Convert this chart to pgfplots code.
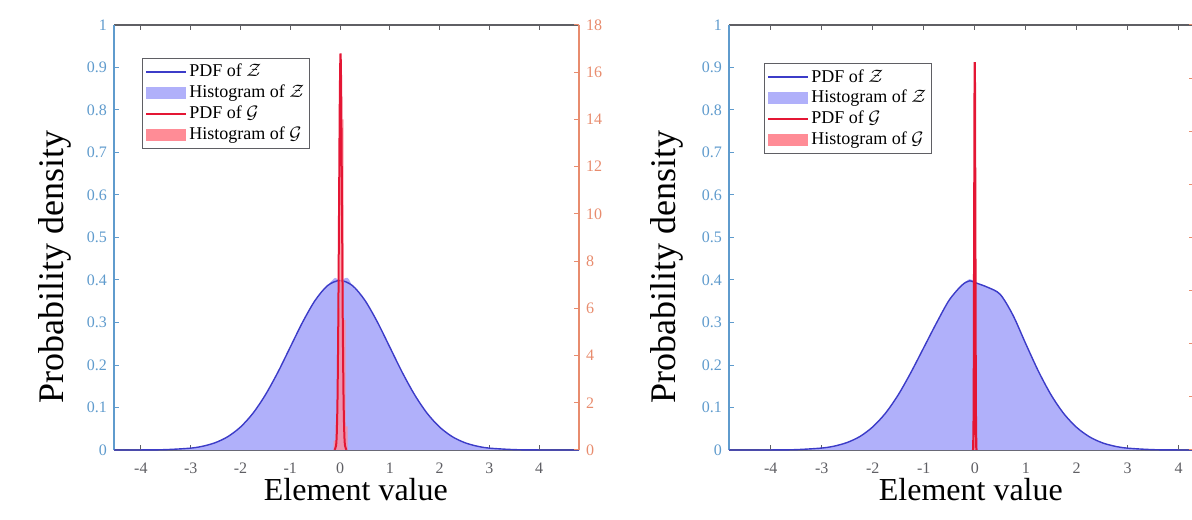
\documentclass[border=0pt]{standalone}
\usepackage{fontspec}
\setmainfont{Liberation Serif}
\usepackage{pgfplots}
\pgfplotsset{compat=1.18}

\definecolor{leftax}{RGB}{95,155,205}
\definecolor{rightax}{RGB}{232,140,110}
\definecolor{boxgray}{RGB}{95,95,100}
\definecolor{zfill}{RGB}{176,176,250}
\definecolor{zline}{RGB}{60,60,200}
\definecolor{gline}{RGB}{228,22,52}
\definecolor{gfill}{RGB}{255,140,150}

\pgfplotsset{
  linelegend/.style={legend image code/.code={\draw[##1] (0pt,0pt) -- (20pt,0pt);}},
  arealegend/.style={legend image code/.code={\fill[##1, draw=none] (0pt,-3pt) rectangle (20pt,3pt);}},
  panel/.style={
    scale only axis, width=232.5pt, height=212.5pt, anchor=south west,
    ymin=0, tick align=inside, major tick length=2.5pt,
    /pgf/number format/assume math mode=true,
    ticklabel style={font=\fontsize{8}{9}\selectfont},
  },
  leftpart/.style={
    panel,
    axis x line=box, axis y line*=left, ymax=1,
    xtick={-4,-3,-2,-1,0,1,2,3,4},
    ytick={0,0.1,0.2,0.3,0.4,0.5,0.6,0.7,0.8,0.9,1},
    x axis line style={draw=boxgray, line width=0.6pt, -},
    y axis line style={draw=leftax, line width=0.6pt, -},
    xtick style={draw=boxgray, line width=0.5pt},
    ytick style={draw=leftax, line width=0.5pt},
    xticklabel style={color=boxgray, yshift=-3pt},
    yticklabel style={color=leftax},
    xlabel style={font=\fontsize{16}{18}\selectfont, at={(axis description cs:0.52,0)}, anchor=base, yshift=-25pt},
    ylabel style={font=\fontsize{18}{20}\selectfont, anchor=center},
    xlabel={Element value}, ylabel={Probability density},
  },
  rightpart/.style={
    panel,
    axis x line=none, axis y line*=right,
    y axis line style={draw=rightax, line width=0.6pt, -},
    ytick style={draw=rightax, line width=0.5pt},
    yticklabel style={color=rightax},
    legend cell align=left,
    legend style={anchor=north west, draw=boxgray, fill=white, line width=0.5pt,
      font=\fontsize{9}{10}\selectfont, row sep=0pt, inner sep=1.5pt,
      nodes={inner sep=1.3pt}},
  },
}

\begin{document}
\begin{tikzpicture}
% ---------- left panel ----------
\begin{axis}[leftpart, at={(57pt,34.5pt)}, xmin=-4.54, xmax=4.8,
  ylabel style={at={(axis description cs:-0.127,0.43)}}]
\addplot[fill=zfill, draw=none, smooth] coordinates {
 (-4.54,0) (-4.25,0) (-4.0,0.0001) (-3.75,0.0004) (-3.5,0.0009) (-3.25,0.0020)
 (-3.0,0.0044) (-2.75,0.0091) (-2.5,0.0175) (-2.25,0.0317) (-2.0,0.0540)
 (-1.75,0.0863) (-1.5,0.1296) (-1.25,0.1826) (-1.0,0.2420) (-0.75,0.3012)
 (-0.5,0.3521) (-0.25,0.3868) (-0.1,0.405) (0.0,0.399) (0.15,0.405) (0.25,0.3868)
 (0.5,0.3521) (0.75,0.3012) (1.0,0.2420) (1.25,0.1826) (1.5,0.1296) (1.75,0.0863)
 (2.0,0.0540) (2.25,0.0317) (2.5,0.0175) (2.75,0.0091) (3.0,0.0044) (3.25,0.0020)
 (3.5,0.0009) (3.75,0.0004) (4.0,0.0001) (4.25,0) (4.8,0)
} \closedcycle;
\addplot[draw=zline, line width=0.7pt, smooth] coordinates {
 (-4.54,0) (-4.0,0.0001) (-3.5,0.0009) (-3.0,0.0044) (-2.75,0.0091) (-2.5,0.0175)
 (-2.25,0.0317) (-2.0,0.0540) (-1.75,0.0863) (-1.5,0.1296) (-1.25,0.1826)
 (-1.0,0.2420) (-0.75,0.3012) (-0.5,0.3521) (-0.25,0.3868) (0.0,0.3989)
 (0.25,0.3868) (0.5,0.3521) (0.75,0.3012) (1.0,0.2420) (1.25,0.1826) (1.5,0.1296)
 (1.75,0.0863) (2.0,0.0540) (2.25,0.0317) (2.5,0.0175) (2.75,0.0091) (3.0,0.0044)
 (3.5,0.0009) (4.0,0.0001) (4.8,0)
};
\end{axis}
\begin{axis}[rightpart, at={(57pt,34.5pt)}, xmin=-4.54, xmax=4.8,
  ymax=18, ytick={0,2,4,6,8,10,12,14,16,18},
  legend style={at={(0.06,0.922)}}]
\addlegendimage{linelegend, draw=zline, line width=0.7pt}
\addlegendentry{PDF of $\mathcal{Z}$}
\addlegendimage{arealegend, fill=zfill}
\addlegendentry{Histogram of $\mathcal{Z}$}
\addlegendimage{linelegend, draw=gline, line width=0.7pt}
\addlegendentry{PDF of $\mathcal{G}$}
\addlegendimage{arealegend, fill=gfill}
\addlegendentry{Histogram of $\mathcal{G}$}
\addplot[forget plot, const plot, fill=gfill, fill opacity=0.75, draw=none] coordinates {
 (-0.13,0.4) (-0.09,1.2) (-0.05,6) (-0.01,14.5) (0.03,14) (0.07,5.5) (0.11,1.0) (0.15,1.0)
} \closedcycle;
\addplot[forget plot, draw=gline, line width=1pt, smooth] coordinates {
 (-0.11,0.006) (-0.08,0.187) (-0.065,0.737) (-0.05,2.274) (-0.035,5.45)
 (-0.02,10.19) (-0.005,14.83) (0.01,16.8) (0.025,14.83) (0.04,10.19)
 (0.055,5.45) (0.07,2.274) (0.085,0.737) (0.10,0.187) (0.13,0.006)
};
\end{axis}
% ---------- right panel ----------
\begin{axis}[leftpart, at={(364.5pt,34.5pt)}, xmin=-4.82, xmax=4.3,
  ylabel style={at={(axis description cs:-0.133,0.43)}}]
\addplot[fill=zfill, draw=none, smooth] coordinates {
 (-4.82,0) (-4.25,0) (-4.0,0.0001) (-3.75,0.0004) (-3.5,0.0009) (-3.25,0.0021)
 (-3.0,0.0046) (-2.75,0.0093) (-2.5,0.0178) (-2.25,0.0320) (-2.0,0.0545)
 (-1.75,0.0868) (-1.5,0.1300) (-1.25,0.1830) (-1.0,0.2410) (-0.75,0.2990)
 (-0.5,0.3530) (-0.25,0.3880) (-0.1,0.402) (0.0,0.396) (0.25,0.384) (0.5,0.368)
 (0.75,0.318) (1.0,0.2500) (1.25,0.1850) (1.5,0.1290) (1.75,0.0850) (2.0,0.0530)
 (2.25,0.0310) (2.5,0.0170) (2.75,0.0088) (3.0,0.0043) (3.25,0.0019)
 (3.5,0.0008) (3.75,0.0003) (4.0,0.0001) (4.3,0)
} \closedcycle;
\addplot[draw=zline, line width=0.7pt, smooth] coordinates {
 (-4.82,0) (-4.0,0.0001) (-3.5,0.0009) (-3.0,0.0046) (-2.75,0.0093) (-2.5,0.0178)
 (-2.25,0.0320) (-2.0,0.0545) (-1.75,0.0868) (-1.5,0.1300) (-1.25,0.1830)
 (-1.0,0.2410) (-0.75,0.2990) (-0.5,0.3530) (-0.25,0.3880) (-0.1,0.398) (0.0,0.394)
 (0.25,0.383) (0.5,0.366) (0.75,0.317) (1.0,0.2500) (1.25,0.1850) (1.5,0.1290)
 (1.75,0.0850) (2.0,0.0530) (2.25,0.0310) (2.5,0.0170) (2.75,0.0088) (3.0,0.0043)
 (3.5,0.0008) (4.0,0.0001) (4.3,0)
};
\end{axis}
\begin{axis}[rightpart, at={(364.5pt,34.5pt)}, xmin=-4.82, xmax=4.3,
  ymax=40, ytick={0,5,10,15,20,25,30,35,40}, yticklabels={},
  legend style={at={(0.075,0.91)}}]
\addlegendimage{linelegend, draw=zline, line width=0.7pt}
\addlegendentry{PDF of $\mathcal{Z}$}
\addlegendimage{arealegend, fill=zfill}
\addlegendentry{Histogram of $\mathcal{Z}$}
\addlegendimage{linelegend, draw=gline, line width=0.7pt}
\addlegendentry{PDF of $\mathcal{G}$}
\addlegendimage{arealegend, fill=gfill}
\addlegendentry{Histogram of $\mathcal{G}$}
\addplot[forget plot, const plot, fill=gfill, fill opacity=0.75, draw=none] coordinates {
 (-0.03,1.0) (-0.015,20) (0.0,24) (0.015,1.5) (0.03,1.5)
} \closedcycle;
\addplot[forget plot, draw=gline, line width=1.1pt, smooth] coordinates {
 (-0.04,0.012) (-0.03,0.406) (-0.02,4.94) (-0.01,22.14) (0.0,36.5)
 (0.01,22.14) (0.02,4.94) (0.03,0.406) (0.04,0.012)
};
\end{axis}
\pgfresetboundingbox
\useasboundingbox (0,0) rectangle (596pt,259.5pt);
\end{tikzpicture}
\end{document}
